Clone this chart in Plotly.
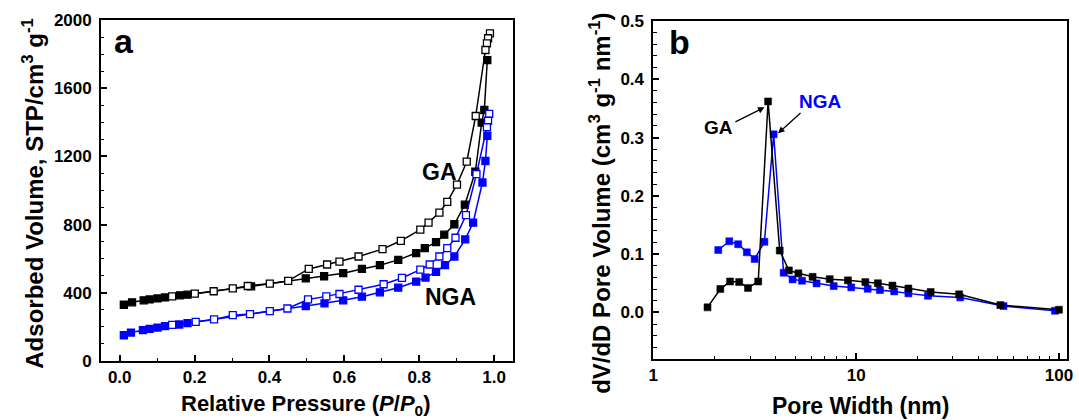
import plotly.graph_objects as go

# ---------------- data: panel a (N2 isotherms) ----------------
ga_ads_p = [0.011, 0.033, 0.064, 0.080, 0.101, 0.121, 0.161, 0.181, 0.351, 0.497, 0.546, 0.597,
            0.647, 0.695, 0.744, 0.792, 0.815, 0.845, 0.867, 0.894, 0.922, 0.950, 0.967, 0.974, 0.982]
ga_ads_v = [330, 344, 356, 361, 367, 373, 385, 389, 438, 485, 497, 515,
            540, 562, 593, 633, 662, 697, 741, 802, 917, 1110, 1398, 1472, 1765]
ga_des_p = [0.989, 0.984, 0.981, 0.977, 0.951, 0.927, 0.901, 0.875, 0.854, 0.825, 0.803, 0.751,
            0.702, 0.638, 0.587, 0.554, 0.505, 0.450, 0.401, 0.342, 0.302, 0.251, 0.2005, 0.140]
ga_des_v = [1922, 1893, 1863, 1824, 1437, 1169, 1035, 933, 870, 811, 770, 705,
            656, 613, 583, 566, 540, 470, 454, 440, 426, 409, 395, 379]

nga_ads_p = [0.011, 0.030, 0.062, 0.080, 0.101, 0.121, 0.159, 0.181, 0.497, 0.547, 0.597, 0.647,
             0.695, 0.744, 0.792, 0.817, 0.845, 0.869, 0.894, 0.923, 0.944, 0.969, 0.977, 0.982]
nga_ads_v = [151, 167, 181, 189, 196, 204, 214, 222, 322, 338, 356, 377,
             403, 430, 466, 489, 523, 562, 613, 713, 811, 1047, 1173, 1320]
nga_des_p = [0.987, 0.984, 0.981, 0.953, 0.925, 0.897, 0.875, 0.854, 0.828, 0.803, 0.754, 0.705,
             0.638, 0.587, 0.552, 0.503, 0.448, 0.401, 0.348, 0.302, 0.252, 0.203, 0.140]
nga_des_v = [1449, 1409, 1371, 1096, 855, 723, 662, 613, 566, 536, 487, 450,
             418, 393, 379, 361, 308, 293, 275, 269, 244, 230, 212]

# ---------------- data: panel b (pore size distribution) ----------------
ga_w = [1.85, 2.14, 2.39, 2.65, 2.93, 3.29, 3.68, 4.20, 4.66, 5.19, 6.10, 7.41, 9.11, 11.1,
        12.8, 15.1, 18.1, 23.3, 32.2, 51.4, 100]
ga_dv = [0.0086, 0.040, 0.053, 0.052, 0.042, 0.053, 0.362, 0.106, 0.072, 0.067, 0.061, 0.057, 0.055, 0.052,
         0.050, 0.046, 0.041, 0.035, 0.031, 0.0125, 0.0045]
nga_w = [2.09, 2.37, 2.62, 2.89, 3.16, 3.53, 3.92, 4.39, 4.86, 5.41, 6.38, 7.75, 9.46, 11.4,
         13.1, 15.4, 18.1, 22.6, 32.6, 53.3, 95.6]
nga_dv = [0.107, 0.122, 0.117, 0.103, 0.0915, 0.121, 0.3055, 0.068, 0.0566, 0.0543, 0.0497, 0.0451, 0.0429, 0.0405,
          0.0383, 0.036, 0.0326, 0.0285, 0.0257, 0.0108, 0.0027]

x_ticks_a = [0.0, 0.2, 0.4, 0.6, 0.8, 1.0]
x_ticklabels_a = ["0.0", "0.2", "0.4", "0.6", "0.8", "1.0"]
y_ticks_a = [0, 400, 800, 1200, 1600, 2000]
x_ticks_b = [1, 10, 100]
y_ticks_b = [0.0, 0.1, 0.2, 0.3, 0.4, 0.5]
y_ticklabels_b = ["0.0", "0.1", "0.2", "0.3", "0.4", "0.5"]

BLUE = "#0000FF"
BLACK = "#000000"
FONT = "Liberation Sans, Arial, sans-serif"

W, H = 1079, 420
MT, MB = 20, 59
PH = H - MT - MB  # 341


def px(xp):
    return xp / W


def py(yp):
    return (H - MB - yp) / PH


fig = go.Figure()

# ---- panel a ----
def iso(x, y, color, filled, name):
    fig.add_trace(go.Scatter(
        x=x, y=y, mode="lines+markers", name=name,
        line=dict(color=color, width=1.5),
        marker=dict(symbol="square", size=7,
                    color=color if filled else "white",
                    line=dict(color=color, width=1.3)),
        xaxis="x", yaxis="y", showlegend=False))

iso(ga_ads_p, ga_ads_v, BLACK, True, "GA ads")
iso(ga_des_p, ga_des_v, BLACK, False, "GA des")
iso(nga_ads_p, nga_ads_v, BLUE, True, "NGA ads")
iso(nga_des_p, nga_des_v, BLUE, False, "NGA des")

# ---- panel b ----
fig.add_trace(go.Scatter(
    x=nga_w, y=nga_dv, mode="lines+markers", name="NGA",
    line=dict(color=BLUE, width=1.5),
    marker=dict(symbol="square", size=7, color=BLUE, line=dict(color=BLUE, width=0.5)),
    xaxis="x2", yaxis="y2", showlegend=False))
fig.add_trace(go.Scatter(
    x=ga_w, y=ga_dv, mode="lines+markers", name="GA",
    line=dict(color=BLACK, width=1.5),
    marker=dict(symbol="square", size=7, color=BLACK, line=dict(color=BLACK, width=0.5)),
    xaxis="x2", yaxis="y2", showlegend=False))

tickfont = dict(family=FONT, size=17, color="black", weight="bold")
axis_common = dict(showline=True, linecolor="black", linewidth=1.8, mirror=True,
                   ticks="inside", ticklen=6, tickwidth=1.5, tickcolor="black",
                   showgrid=False, zeroline=False, tickfont=tickfont)

fig.update_layout(
    width=W, height=H,
    margin=dict(l=0, r=0, t=MT, b=MB),
    paper_bgcolor="white", plot_bgcolor="white",
    xaxis=dict(domain=[px(97), px(513)], range=[-0.05, 1.05], anchor="y",
               tickvals=x_ticks_a, ticktext=x_ticklabels_a,
               minor=dict(ticks="inside", dtick=0.1, tick0=0, ticklen=3.5, tickwidth=1.3,
                          tickcolor="black", showgrid=False),
               **axis_common),
    yaxis=dict(domain=[0, 1], range=[0, 2000], anchor="x",
               tickvals=y_ticks_a, ticklabelstandoff=4,
               minor=dict(ticks="inside", dtick=100, tick0=0, ticklen=3.5, tickwidth=1.3,
                          tickcolor="black", showgrid=False),
               **axis_common),
    xaxis2=dict(domain=[px(655), px(1073)], type="log", range=[0, 2.04], anchor="y2",
                tickvals=x_ticks_b, ticktext=["1", "10", "100"],
                minor=dict(ticks="inside", dtick="D1", ticklen=3.5, tickwidth=1.3,
                           tickcolor="black", showgrid=False),
                **axis_common),
    yaxis2=dict(domain=[py(359), py(21)], range=[-0.08, 0.5], anchor="x2",
                tickvals=y_ticks_b, ticktext=y_ticklabels_b, ticklabelstandoff=4,
                minor=dict(ticks="inside", dtick=0.02, tick0=0, ticklen=3.5, tickwidth=1.3,
                           tickcolor="black", showgrid=False),
                **axis_common),
)

def txt(text, x, y, size, color="black", angle=0, xref="paper", yref="paper"):
    fig.add_annotation(text=text, x=x, y=y, xref=xref, yref=yref, showarrow=False,
                       textangle=angle, xanchor="center", yanchor="middle",
                       font=dict(family=FONT, size=size, color=color, weight="bold"))

# axis titles
txt("Adsorbed Volume, STP/cm<sup>3</sup> g<sup>-1</sup>", px(28), py(193), 24, angle=-90)
txt("Relative Pressure (<i>P</i>/<i>P</i><sub>0</sub>)", px(304), py(405), 22)
txt("dV/dD Pore Volume (cm<sup>3</sup> g<sup>-1</sup> nm<sup>-1</sup>)", px(601), py(203), 24, angle=-90)
txt("Pore Width (nm)", px(864), py(406), 23)

# panel labels and series labels
txt("a", px(120), py(41), 34)
txt("b", px(681), py(42), 34)
txt("GA", px(439), py(172), 23)
txt("NGA", px(450), py(297), 23)
txt("GA", px(720.5), py(127), 19)
txt("NGA", px(824), py(101), 19, color=BLUE)

# arrows in panel b
for head, tail in [((767.3, 107.3), (736.7, 122.7)), ((781, 133.3), (805, 111.7))]:
    fig.add_annotation(text="", x=px(head[0]), y=py(head[1]), xref="paper", yref="paper",
                       showarrow=True, ax=tail[0] - head[0], ay=tail[1] - head[1],
                       arrowhead=2, arrowsize=1, arrowwidth=1.3, arrowcolor="black")

fig.write_html("out.html")
